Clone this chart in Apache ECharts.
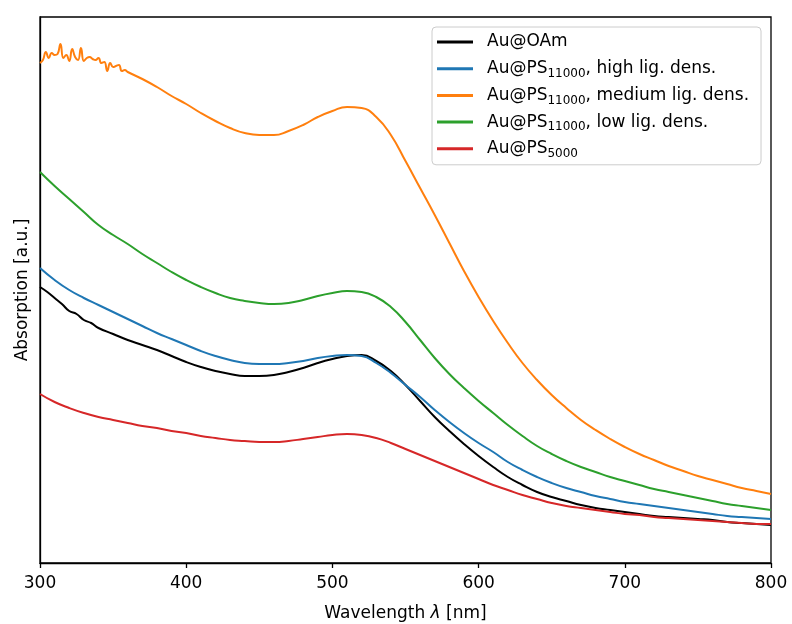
<!DOCTYPE html>
<html>
<head>
<meta charset="utf-8">
<script src="https://cdn.jsdelivr.net/npm/echarts@6/dist/echarts.min.js"></script>
<style>
html,body{margin:0;padding:0;background:#fff;}
#chart{width:792px;height:624px;}
</style>
</head>
<body>
<div id="chart"></div>
<script>
// ---- data (absorption in a.u.) ----
var seriesNames = [
  'Au@OAm',
  'Au@PS{sub|11000}, high lig. dens.',
  'Au@PS{sub|11000}, medium lig. dens.',
  'Au@PS{sub|11000}, low lig. dens.',
  'Au@PS{sub|5000}'
];
var seriesColors = ['#000000', '#1f77b4', '#ff7f0e', '#2ca02c', '#d62728'];

var xTicks = [300, 400, 500, 600, 700, 800];

var wl10 = [300,310,320,330,340,350,360,370,380,390,400,410,420,430,440,450,460,470,480,490,500,
            510,520,530,540,550,560,570,580,590,600,610,620,630,640,650,660,670,680,690,700,
            710,720,730,740,750,760,770,780,790,800];

var wlBlack = [300,305,310,315,320,325,330,335,340,350,360,370,380,390,400,410,420,430,440,450,460,470,480,490,500,
               510,520,530,540,550,560,570,580,590,600,610,620,630,640,650,660,670,680,690,700,
               710,720,730,740,750,760,770,780,790,800];
var absBlack = [0.552,0.542,0.530,0.518,0.504,0.498,0.486,0.480,0.470,0.458,0.446,0.436,0.426,0.414,0.402,0.392,0.384,0.378,0.374,0.374,0.376,0.382,0.390,0.400,0.408,
                0.414,0.416,0.404,0.384,0.356,0.324,0.292,0.264,0.238,0.214,0.192,0.172,0.156,0.142,0.132,0.124,0.116,0.110,0.106,0.102,
                0.098,0.094,0.092,0.090,0.088,0.086,0.082,0.080,0.078,0.076];

var absHigh = [0.590,0.566,0.546,0.530,0.516,0.502,0.488,0.474,0.460,0.448,0.436,0.424,0.414,0.406,0.400,0.398,0.398,0.400,0.404,0.410,0.414,
               0.416,0.414,0.400,0.380,0.356,0.332,0.306,0.282,0.260,0.240,0.222,0.202,0.186,0.172,0.160,0.150,0.142,0.134,0.128,0.122,
               0.118,0.114,0.110,0.106,0.102,0.098,0.094,0.092,0.090,0.088];

var wlMedium = [300,302,304,306,308,310,312,314,316,318,320,322,324,326,328,330,332,334,336,338,340,
                342,344,346,348,350,352,354,356,358,360,370,380,390,400,410,420,430,440,450,460,470,480,490,500,
                510,520,530,540,550,560,570,580,590,600,610,620,630,640,650,660,670,680,690,700,
                710,720,730,740,750,760,770,780,790,800];
var absMedium = [1.000,1.006,1.022,1.010,1.020,1.016,1.018,1.038,1.010,1.016,1.004,1.028,1.012,1.006,1.030,1.004,1.010,1.012,1.008,1.006,1.010,
                 1.000,1.002,0.984,1.000,0.992,0.994,0.996,0.984,0.986,0.982,0.968,0.952,0.934,0.918,0.900,0.884,0.870,0.860,0.856,0.856,0.864,0.876,0.892,0.904,
                 0.912,0.910,0.892,0.856,0.804,0.750,0.696,0.640,0.584,0.532,0.484,0.440,0.400,0.366,0.336,0.310,0.286,0.266,0.248,0.232,
                 0.218,0.206,0.194,0.184,0.174,0.166,0.158,0.150,0.144,0.138];

var absLow = [0.782,0.754,0.728,0.702,0.676,0.656,0.638,0.618,0.600,0.582,0.566,0.552,0.540,0.530,0.524,0.520,0.518,0.520,0.526,0.534,0.540,
              0.544,0.542,0.532,0.512,0.482,0.446,0.410,0.378,0.350,0.324,0.300,0.276,0.254,0.234,0.218,0.204,0.192,0.182,0.172,0.164,
              0.156,0.148,0.142,0.136,0.130,0.124,0.118,0.114,0.110,0.106];

var abs5000 = [0.338,0.322,0.310,0.300,0.292,0.286,0.280,0.274,0.270,0.264,0.260,0.254,0.250,0.246,0.244,0.242,0.242,0.244,0.248,0.252,0.256,
               0.258,0.256,0.250,0.240,0.228,0.216,0.204,0.192,0.180,0.168,0.156,0.146,0.136,0.128,0.120,0.114,0.110,0.106,0.102,0.098,
               0.096,0.092,0.090,0.088,0.086,0.084,0.082,0.080,0.078,0.078];

// ---- build ----
function pairs(xs, ys) { return xs.map(function (x, i) { return [x, ys[i]]; }); }
var seriesData = [
  pairs(wlBlack, absBlack),
  pairs(wl10, absHigh),
  pairs(wlMedium, absMedium),
  pairs(wl10, absLow),
  pairs(wl10, abs5000)
];

var FONT = 'DejaVu Sans';
var chart = echarts.init(document.getElementById('chart'), null, {renderer: 'canvas'});
var option = {
  animation: false,
  backgroundColor: '#ffffff',
  grid: {left: 40, right: 21, top: 17, bottom: 61, show: true, borderColor: '#000', borderWidth: 1.3,
         backgroundColor: 'transparent', containLabel: false, outerBoundsMode: 'none'},
  xAxis: {
    type: 'value', min: xTicks[0], max: xTicks[xTicks.length - 1], interval: 100,
    name: 'Wavelength {i|λ} [nm]', nameLocation: 'middle', nameGap: 42,
    nameTextStyle: {fontFamily: FONT, fontSize: 17, color: '#000',
      rich: {i: {fontFamily: FONT, fontSize: 17, fontStyle: 'italic', color: '#000'}}},
    axisLine: {show: true, lineStyle: {color: '#000', width: 1.3}},
    axisTick: {show: true, inside: false, length: 5, lineStyle: {color: '#000', width: 1.3}},
    axisLabel: {fontFamily: FONT, fontSize: 17, color: '#000', margin: 12},
    splitLine: {show: false}
  },
  yAxis: {
    type: 'value', min: 0, max: 1.092,
    name: 'Absorption [a.u.]', nameLocation: 'middle', nameGap: 9, nameRotate: 90,
    nameTextStyle: {fontFamily: FONT, fontSize: 17, color: '#000'},
    axisLine: {show: true, lineStyle: {color: '#000', width: 1.3}},
    axisTick: {show: false}, axisLabel: {show: false}, splitLine: {show: false}
  },
  legend: {
    orient: 'vertical', left: 432, top: 27,
    padding: [4, 12, 5, 5],
    itemWidth: 36, itemHeight: 3, itemGap: 4.7,
    icon: 'rect',
    backgroundColor: 'rgba(255,255,255,0.85)', borderColor: '#cccccc', borderWidth: 1, borderRadius: 4,
    data: seriesNames.map(function (n, i) { return {name: n, itemStyle: {color: seriesColors[i]}}; }),
    textStyle: {fontFamily: FONT, fontSize: 17, color: '#000', lineHeight: 22, padding: [0, 0, 0, 9],
      rich: {sub: {fontFamily: FONT, fontSize: 12, color: '#000', lineHeight: 14, verticalAlign: 'bottom'}}}
  },
  series: seriesNames.map(function (n, i) {
    return {
      name: n, type: 'line', data: seriesData[i], showSymbol: false, symbol: 'none',
      smooth: 0.5, lineStyle: {color: seriesColors[i], width: 2}, itemStyle: {color: seriesColors[i]},
      z: 2 + i
    };
  })
};
chart.setOption(option);
</script>
</body>
</html>
